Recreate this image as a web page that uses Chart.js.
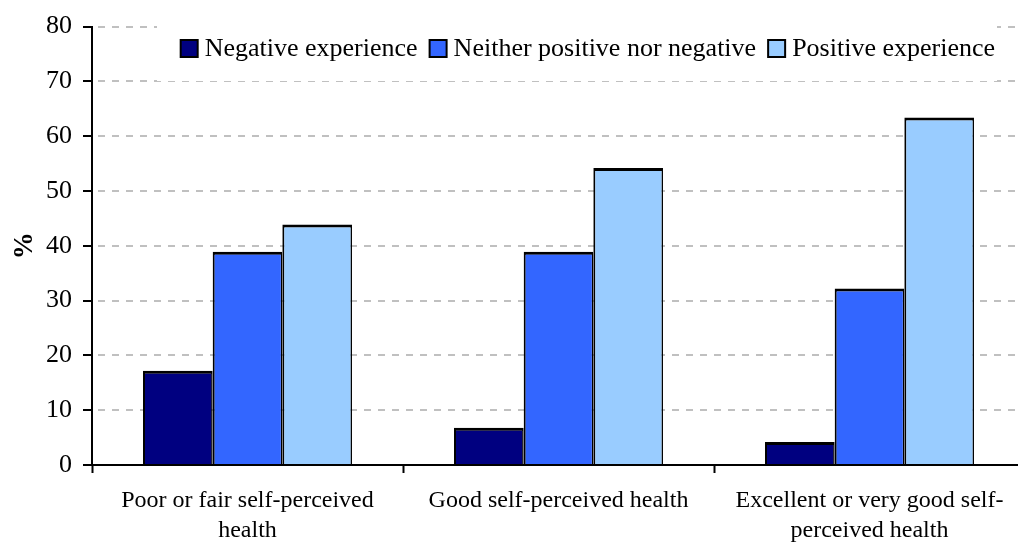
<!DOCTYPE html>
<html lang="en">
<head>
    <title>Experience by self-perceived health</title>
    <script src="https://cdn.jsdelivr.net/npm/chart.js"></script>
    <style>
        html, body {
            margin: 0;
            padding: 0;
            background: #fff;
            overflow: hidden;
        }
        .chart-container {
            width: 1026px;
            height: 545px;
            position: relative;
        }
    </style>
</head>
<body>
    <div class="chart-container">
        <canvas id="myChart"></canvas>
    </div>

    <script>
        // data
        const categories = [
            ["Poor or fair self-perceived", "health"],
            ["Good self-perceived health"],
            ["Excellent or very good self-", "perceived health"]
        ];
        const negative = [17.2, 6.8, 4.2];
        const neither = [38.9, 38.9, 32.2];
        const positive = [43.9, 54.2, 63.4];
        const yTicks = [0, 10, 20, 30, 40, 50, 60, 70, 80];

        const serif = "'Liberation Serif', 'Times New Roman', serif";
        const barBorder = { top: 3, left: 2, right: 1.5, bottom: 0 };

        // legend drawn inside the plot, on a white patch that hides the grid
        const innerLegend = {
            id: "innerLegend",
            afterDraw(chart) {
                const ctx = chart.ctx;
                ctx.save();
                ctx.fillStyle = "#fff";
                ctx.fillRect(157, 20, 840, 61);

                ctx.font = "26px " + serif;
                ctx.textBaseline = "middle";
                const box = 17, gap = 7, itemGap = 12;
                const items = chart.data.datasets.map(ds => ({
                    label: ds.label,
                    color: ds.backgroundColor,
                    w: ctx.measureText(ds.label).width
                }));
                let total = 0;
                items.forEach((it, i) => {
                    total += box + gap + it.w + (i > 0 ? itemGap : 0);
                });
                let x = 995 - total;
                const y = 40;
                items.forEach(it => {
                    ctx.fillStyle = it.color;
                    ctx.fillRect(x, y, box, box);
                    ctx.strokeStyle = "#000";
                    ctx.lineWidth = 2;
                    ctx.strokeRect(x, y, box, box);
                    ctx.fillStyle = "#000";
                    ctx.fillText(it.label, x + box + gap, y + box / 2 + 1);
                    x += box + gap + it.w + itemGap;
                });
                ctx.restore();
            }
        };

        const ctx = document.getElementById("myChart").getContext("2d");
        new Chart(ctx, {
            type: "bar",
            data: {
                labels: categories,
                datasets: [
                    {
                        label: "Negative experience",
                        data: negative,
                        backgroundColor: "#000080",
                        borderColor: "#000",
                        borderWidth: barBorder
                    },
                    {
                        label: "Neither positive nor negative",
                        data: neither,
                        backgroundColor: "#3366FF",
                        borderColor: "#000",
                        borderWidth: barBorder
                    },
                    {
                        label: "Positive experience",
                        data: positive,
                        backgroundColor: "#99CCFF",
                        borderColor: "#000",
                        borderWidth: barBorder
                    }
                ]
            },
            options: {
                responsive: true,
                maintainAspectRatio: false,
                animation: false,
                layout: {
                    padding: { top: 23, right: 1, left: 0, bottom: 0 }
                },
                datasets: {
                    bar: {
                        categoryPercentage: 0.672,
                        barPercentage: 1,
                        inflateAmount: 0
                    }
                },
                plugins: {
                    legend: { display: false },
                    tooltip: { enabled: false }
                },
                scales: {
                    x: {
                        grid: {
                            display: true,
                            drawOnChartArea: false,
                            offset: true,
                            tickLength: 8,
                            tickColor: "#000",
                            tickWidth: 2
                        },
                        border: { color: "#000", width: 2 },
                        ticks: {
                            color: "#000",
                            maxRotation: 0,
                            autoSkip: false,
                            padding: 13,
                            font: { family: serif, size: 24, lineHeight: 1.25 }
                        },
                        afterFit(scale) { scale.height = 80; }
                    },
                    y: {
                        min: 0,
                        max: 80,
                        afterBuildTicks(scale) {
                            scale.ticks = yTicks.map(v => ({ value: v }));
                        },
                        grid: {
                            color: "#c0c0c0",
                            lineWidth: 2,
                            tickColor: "#000",
                            tickBorderDash: [],
                            tickLength: 9,
                            tickWidth: 2
                        },
                        border: { color: "#000", width: 2, dash: [7, 7], dashOffset: -5 },
                        ticks: {
                            color: "#000",
                            padding: 11,
                            font: { family: serif, size: 26 }
                        },
                        title: {
                            display: true,
                            text: "%",
                            color: "#000",
                            padding: { top: 9, bottom: 0 },
                            font: { family: serif, size: 27, weight: "bold" }
                        },
                        afterFit(scale) { scale.width = 92; }
                    }
                }
            },
            plugins: [innerLegend]
        });
    </script>
</body>
</html>
